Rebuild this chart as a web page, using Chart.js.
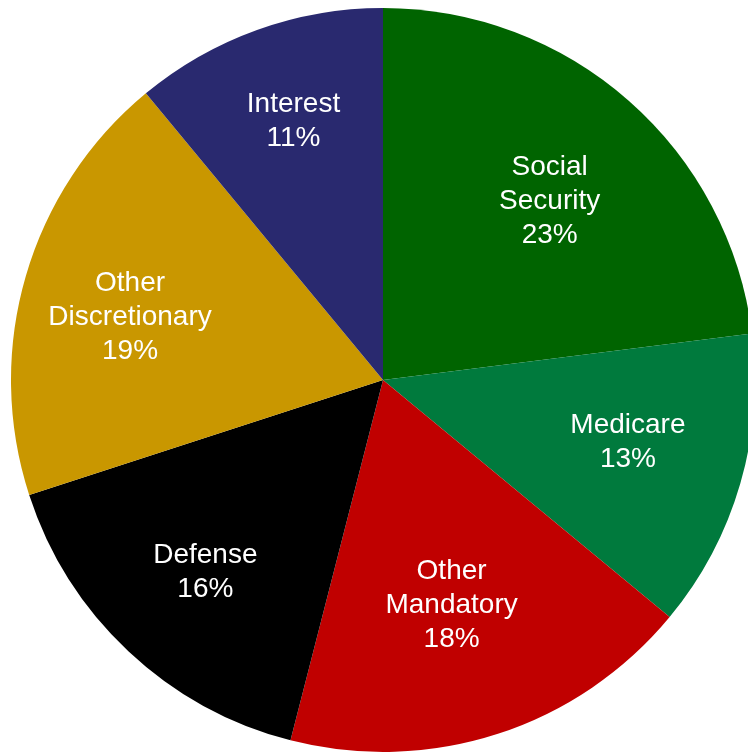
<!DOCTYPE html>
<html>
<head>
<meta charset="utf-8">
<script src="https://cdn.jsdelivr.net/npm/chart.js@4/dist/chart.umd.min.js"></script>
<style>
  html, body { margin: 0; padding: 0; background: #ffffff; overflow: hidden; }
  #wrap { position: absolute; left: 0; top: 0; width: 766px; height: 760px; }
</style>
</head>
<body>
<div id="wrap"><canvas id="pie" width="766" height="760"></canvas></div>
<script>
// Federal spending shares, clockwise from 12 o'clock
const categories = ['Social\nSecurity', 'Medicare', 'Other\nMandatory', 'Defense', 'Other\nDiscretionary', 'Interest'];
const shares = [23, 13, 18, 16, 19, 11];
const sliceColors = ['#006400', '#007a3d', '#c00000', '#000000', '#c99700', '#29296f'];

// Label placement: fraction of the radius and a small angular nudge (degrees)
const labelRadius = [0.662, 0.678, 0.627, 0.699, 0.702, 0.743];
const labelTurn = [1.2, -2.4, 0.9, -0.1, -1.8, 0.9];

const sliceLabels = {
  id: 'sliceLabels',
  afterDatasetsDraw(chart) {
    const ctx = chart.ctx;
    const meta = chart.getDatasetMeta(0);
    const values = chart.data.datasets[0].data;
    const fontSize = 28, lineH = 34, capH = fontSize * 0.716;
    ctx.save();
    ctx.fillStyle = '#ffffff';
    ctx.font = fontSize + 'px "Liberation Sans", Arial, sans-serif';
    ctx.textAlign = 'center';
    ctx.textBaseline = 'alphabetic';
    meta.data.forEach((arc, i) => {
      const mid = (arc.startAngle + arc.endAngle) / 2 + labelTurn[i] * Math.PI / 180;
      const r = arc.outerRadius * labelRadius[i];
      const cx = arc.x + Math.cos(mid) * r;
      const cy = arc.y + Math.sin(mid) * r;
      const lines = chart.data.labels[i].split('\n').concat([values[i] + '%']);
      const n = lines.length;
      const firstBase = cy - ((n - 1) * lineH - capH) / 2;
      lines.forEach((t, k) => ctx.fillText(t, cx, firstBase + k * lineH));
    });
    ctx.restore();
  }
};

new Chart(document.getElementById('pie'), {
  type: 'pie',
  data: {
    labels: categories,
    datasets: [{
      data: shares,
      backgroundColor: sliceColors,
      borderWidth: 0
    }]
  },
  options: {
    responsive: false,
    animation: false,
    devicePixelRatio: 1,
    layout: { padding: 8 },
    plugins: {
      legend: { display: false },
      tooltip: { enabled: false }
    }
  },
  plugins: [sliceLabels]
});
</script>
</body>
</html>
